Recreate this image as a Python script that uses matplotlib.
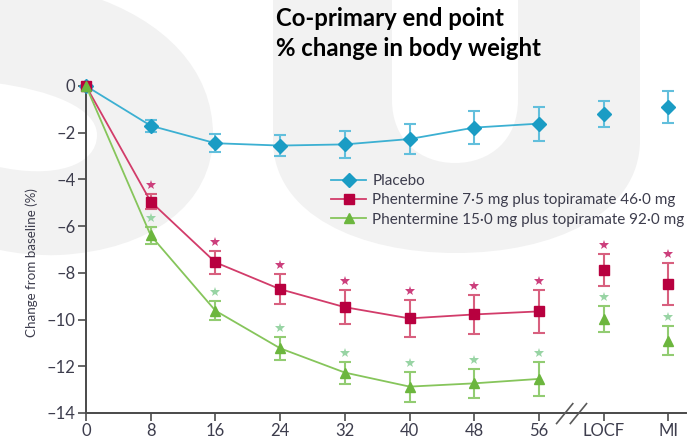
import matplotlib
matplotlib.use("Agg")
import matplotlib.pyplot as plt
from matplotlib.path import Path
from matplotlib.patches import PathPatch
from matplotlib import transforms

# ---- data -------------------------------------------------------------
weeks = [0, 8, 16, 24, 32, 40, 48, 56]
extra_pos = [64, 72]                       # LOCF, MI positions on the axis
x_ticks = [0, 8, 16, 24, 32, 40, 48, 56, 64, 72]
x_ticklabels = ["0", "8", "16", "24", "32", "40", "48", "56", "LOCF", "MI"]
y_ticks = [0, -2, -4, -6, -8, -10, -12, -14]
y_ticklabels = ["0", "–2", "–4", "–6", "–8", "–10", "–12", "–14"]

placebo = [0, -1.70, -2.45, -2.55, -2.50, -2.27, -1.78, -1.61]
placebo_err = [0, 0.25, 0.39, 0.46, 0.57, 0.64, 0.69, 0.73]
placebo_end = [-1.21, -0.89]
placebo_end_err = [0.56, 0.69]

low = [0, -4.95, -7.55, -8.70, -9.47, -9.95, -9.78, -9.65]
low_err = [0, 0.32, 0.50, 0.63, 0.72, 0.79, 0.82, 0.91]
low_end = [-7.89, -8.48]
low_end_err = [0.68, 0.89]

high = [0, -6.40, -9.62, -11.23, -12.27, -12.87, -12.73, -12.54]
high_err = [0, 0.35, 0.41, 0.48, 0.47, 0.64, 0.63, 0.74]
high_end = [-9.99, -10.90]
high_end_err = [0.55, 0.63]

labels = ["Placebo",
          "Phentermine 7·5 mg plus topiramate 46·0 mg",
          "Phentermine 15·0 mg plus topiramate 92·0 mg"]

# ---- figure -------------------------------------------------------------
W, H = 700, 441
fig = plt.figure(figsize=(W / 100, H / 100), dpi=100)
fig.patch.set_facecolor("white")


def px(x, y):
    return (x / W, 1 - y / H)


def shape(verts, codes, color):
    path = Path([px(*v) for v in verts], codes)
    p = PathPatch(path, transform=fig.transFigure, facecolor=color,
                  edgecolor="none", zorder=-10)
    fig.patches.append(p)


M, L, C, Z = Path.MOVETO, Path.LINETO, Path.CURVE4, Path.CLOSEPOLY
grey = "#f2f2f2"

# background watermark letters
shape([(0, -5), (88, -5), (165, 20), (213, 70), (213, 135),
       (213, 205), (150, 250), (60, 255), (35, 256), (15, 253), (0, 250), (0, -5)],
      [M, L, C, C, C, C, C, C, C, C, C, Z], grey)
shape([(-5, 83), (50, 90), (97, 108), (97, 135), (97, 165), (55, 180), (-5, 166), (-5, 83)],
      [M, C, C, C, C, C, C, Z], "white")
shape([(273, -5), (273, 140), (273, 215), (360, 253), (456, 253),
       (552, 253), (640, 215), (640, 140), (640, -5), (273, -5)],
      [M, L, C, C, C, C, C, C, L, Z], grey)
shape([(392, -5), (392, 100), (392, 140), (420, 163), (455, 163),
       (490, 163), (518, 140), (518, 100), (518, -5), (392, -5)],
      [M, L, C, C, C, C, C, C, L, Z], "white")

ax = fig.add_axes([86 / W, 1 - 413 / H, 600 / W, 327 / H])
ax.patch.set_visible(False)
ax.set_xlim(0, 600 / 8.09)
ax.set_ylim(-14, 0)

font = "Lato"
tick_color = "#3d3d4d"
axis_color = "#4a4a4a"

series = [
    (placebo, placebo_err, placebo_end, placebo_end_err,
     "#1a9cc4", "#3cb0d2", "#62bfdc", "D", 6.8, None),
    (low, low_err, low_end, low_end_err,
     "#b8003f", "#d23c6a", "#d8607f", "s", 7.2, "#cc3f7c"),
    (high, high_err, high_end, high_end_err,
     "#6cb63e", "#86c55b", "#92cc72", "^", 7.2, "#98d4a4"),
]

star_off = transforms.offset_copy(ax.transData, fig=fig, x=0, y=9, units="dots")
handles = []
for i, (vals, err, endv, enderr, mcol, lcol, ecol, mk, ms, scol) in enumerate(series):
    z = 3 + i
    ax.errorbar(weeks[1:], vals[1:], yerr=err[1:], fmt="none", ecolor=ecol,
                elinewidth=1.5, capsize=4.5, capthick=1.5, zorder=z)
    ax.errorbar(extra_pos, endv, yerr=enderr, fmt="none", ecolor=ecol,
                elinewidth=1.5, capsize=4.5, capthick=1.5, zorder=z)
    h, = ax.plot(weeks, vals, color=lcol, lw=1.3, marker=mk, ms=ms,
                 markerfacecolor=mcol, markeredgecolor=mcol, clip_on=False,
                 zorder=z + 0.5, label=labels[i])
    ax.plot(extra_pos, endv, linestyle="none", marker=mk, ms=ms,
            markerfacecolor=mcol, markeredgecolor=mcol, zorder=z + 0.5)
    handles.append(h)
    if scol:
        sx = weeks[1:] + extra_pos
        sy = [v + e for v, e in zip(vals[1:] + endv, err[1:] + enderr)]
        ax.plot(sx, sy, linestyle="none", marker="*", ms=7, color=scol,
                markeredgewidth=0, transform=star_off, zorder=z)

# axes styling
for s in ("top", "right"):
    ax.spines[s].set_visible(False)
for s in ("left", "bottom"):
    ax.spines[s].set_color(axis_color)
    ax.spines[s].set_linewidth(1.4)

ax.set_xticks(x_ticks)
ax.set_xticklabels(x_ticklabels)
ax.set_yticks(y_ticks)
ax.set_yticklabels(y_ticklabels)
ax.tick_params(direction="out", length=6, width=1.3, color="#5a5a5a",
               labelsize=12, labelcolor=tick_color, pad=1.5)
for t in ax.get_xticklabels() + ax.get_yticklabels():
    t.set_fontfamily(font)

ax.set_ylabel("Change from baseline (%)", fontsize=9.6, color=tick_color,
              fontfamily=font)
ax.yaxis.set_label_coords(-0.08, 0.46)

# axis break marks between week 56 and LOCF
for xc in (59.17, 60.87):
    ax.plot([xc - 1.0, xc + 1.0], [-14.45, -13.6], color="#5a5a5a", lw=1.2,
            clip_on=False, zorder=6)

leg = ax.legend(handles=handles, loc="upper left",
                bbox_to_anchor=(331 / W, 1 - 174 / H), bbox_transform=fig.transFigure,
                frameon=False, handlelength=2.3, handletextpad=0.4,
                labelspacing=0.35, borderaxespad=0, borderpad=0,
                prop={"family": font, "size": 11})
for t in leg.get_texts():
    t.set_color(tick_color)

fig.text(276 / W, 1 - 26 / H, "Co-primary end point", fontsize=17.2,
         fontweight="bold", fontfamily=font, color="black", va="baseline")
fig.text(276 / W, 1 - 56 / H, "% change in body weight", fontsize=17.2,
         fontweight="bold", fontfamily=font, color="black", va="baseline")

fig.savefig("out.png", dpi=100, facecolor="white")
